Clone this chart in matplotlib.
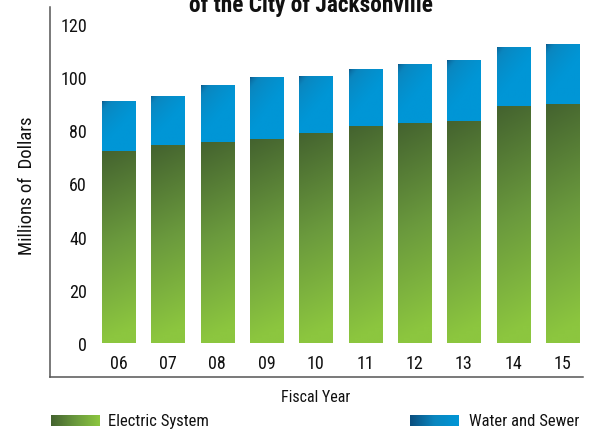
import numpy as np
import matplotlib
matplotlib.use('Agg')
import matplotlib.pyplot as plt
from matplotlib import font_manager as fm
from matplotlib.colors import LinearSegmentedColormap

# pick a narrow font if one is installed, else Liberation Sans a bit smaller
names = {f.name for f in fm.fontManager.ttflist}
narrow = [n for n in ['Liberation Sans Narrow', 'DejaVu Sans Condensed',
                      'Roboto Condensed', 'Open Sans Condensed'] if n in names]
condensed_dejavu = any(f.name == 'DejaVu Sans' and f.stretch == 'condensed'
                       for f in fm.fontManager.ttflist)
if narrow:
    plt.rcParams['font.family'] = [narrow[0], 'DejaVu Sans']
    k = 1.0
elif condensed_dejavu:
    plt.rcParams['font.family'] = ['DejaVu Sans']
    plt.rcParams['font.stretch'] = 'condensed'
    k = 0.95
else:
    plt.rcParams['font.family'] = ['Liberation Sans', 'DejaVu Sans']
    k = 0.86

years = ['06', '07', '08', '09', '10', '11', '12', '13', '14', '15']
electric = [72.2, 74.4, 75.7, 76.7, 79.0, 81.7, 82.8, 83.6, 88.9, 90.0]
water_sewer = [18.7, 18.6, 21.1, 23.2, 21.3, 21.2, 22.0, 22.7, 22.4, 22.4]

green_cmap = LinearSegmentedColormap.from_list('g', ['#44632f', '#6a993d', '#8cc63f'])
blue_cmap = LinearSegmentedColormap.from_list('b', ['#0b4e7e', '#0a86bf', '#0096d6'])


def green_grad(n=64):
    yy, xx = np.mgrid[0:1:n * 1j, 0:1:n * 1j]  # yy=0 at top of image
    return np.clip(yy * 1.0 + xx * 0.08, 0, 1)


def blue_grad(n=64):
    yy, xx = np.mgrid[0:1:n * 1j, 0:1:n * 1j]
    return np.clip((yy * 1.0 + xx * 0.7) / 0.9, 0, 1) ** 0.45


def fill_gradient(ax, patches, grad, cmap):
    for p in patches:
        x0, y0 = p.get_x(), p.get_y()
        w, h = p.get_width(), p.get_height()
        im = ax.imshow(grad(), cmap=cmap, vmin=0, vmax=1, aspect='auto',
                       extent=(x0, x0 + w, y0, y0 + h), origin='upper',
                       interpolation='bilinear', zorder=2)
        im.set_clip_path(p)
        p.set_facecolor('none')


W, H = 597, 431
fig = plt.figure(figsize=(W / 100, H / 100), dpi=100)
ax = fig.add_axes([50 / W, 1 - 378 / H, (583 - 50) / W, (378 - 8) / H])

x = np.arange(len(years))
b1 = ax.bar(x, electric, width=0.67, edgecolor='none', zorder=1)
b2 = ax.bar(x, water_sewer, bottom=electric, width=0.67, edgecolor='none', zorder=1)
fill_gradient(ax, b1, green_grad, green_cmap)
fill_gradient(ax, b2, blue_grad, blue_cmap)

ax.set_xlim(-1.389, 9.416)
ax.set_ylim(-12.78, 126.3)
ax.set_yticks([0, 20, 40, 60, 80, 100, 120])
ax.set_xticks(x)
ax.set_xticklabels(years)
ax.tick_params(axis='y', length=0, pad=-26.6, labelsize=13 * k, colors='#111111')
ax.tick_params(axis='x', length=0, pad=-16.6, labelsize=13 * k, colors='#111111')
for s in ['top', 'right']:
    ax.spines[s].set_visible(False)
for s in ['left', 'bottom']:
    ax.spines[s].set_color('#555555')
    ax.spines[s].set_linewidth(1.1)

fig.text(311 / W, 1 - 12 / H, 'of the City of Jacksonville', ha='center',
         va='baseline', fontsize=16.8 * k, fontweight='bold', color='#111111')
fig.text(27 / W, 1 - 186 / H, 'Millions of  Dollars', rotation=90,
         ha='center', va='center', fontsize=13.5 * k, color='#111111')
fig.text(316 / W, 1 - 398 / H, 'Fiscal Year', ha='center', va='center',
         fontsize=11.5 * k, color='#111111')

# legend swatches
hgrad = np.linspace(0, 1, 64).reshape(1, -1)
for (x0, x1), cmap, label, tx in [((51, 100), green_cmap, 'Electric System', 108),
                                   ((410, 459), blue_cmap, 'Water and Sewer', 469)]:
    lax = fig.add_axes([x0 / W, 1 - 427 / H, (x1 - x0) / W, 11 / H])
    lax.imshow(hgrad, cmap=cmap, aspect='auto', interpolation='bilinear')
    lax.axis('off')
    fig.text(tx / W, 1 - 422 / H, label, ha='left', va='center',
             fontsize=12 * k, color='#111111')

plt.savefig('out.png', dpi=100)
